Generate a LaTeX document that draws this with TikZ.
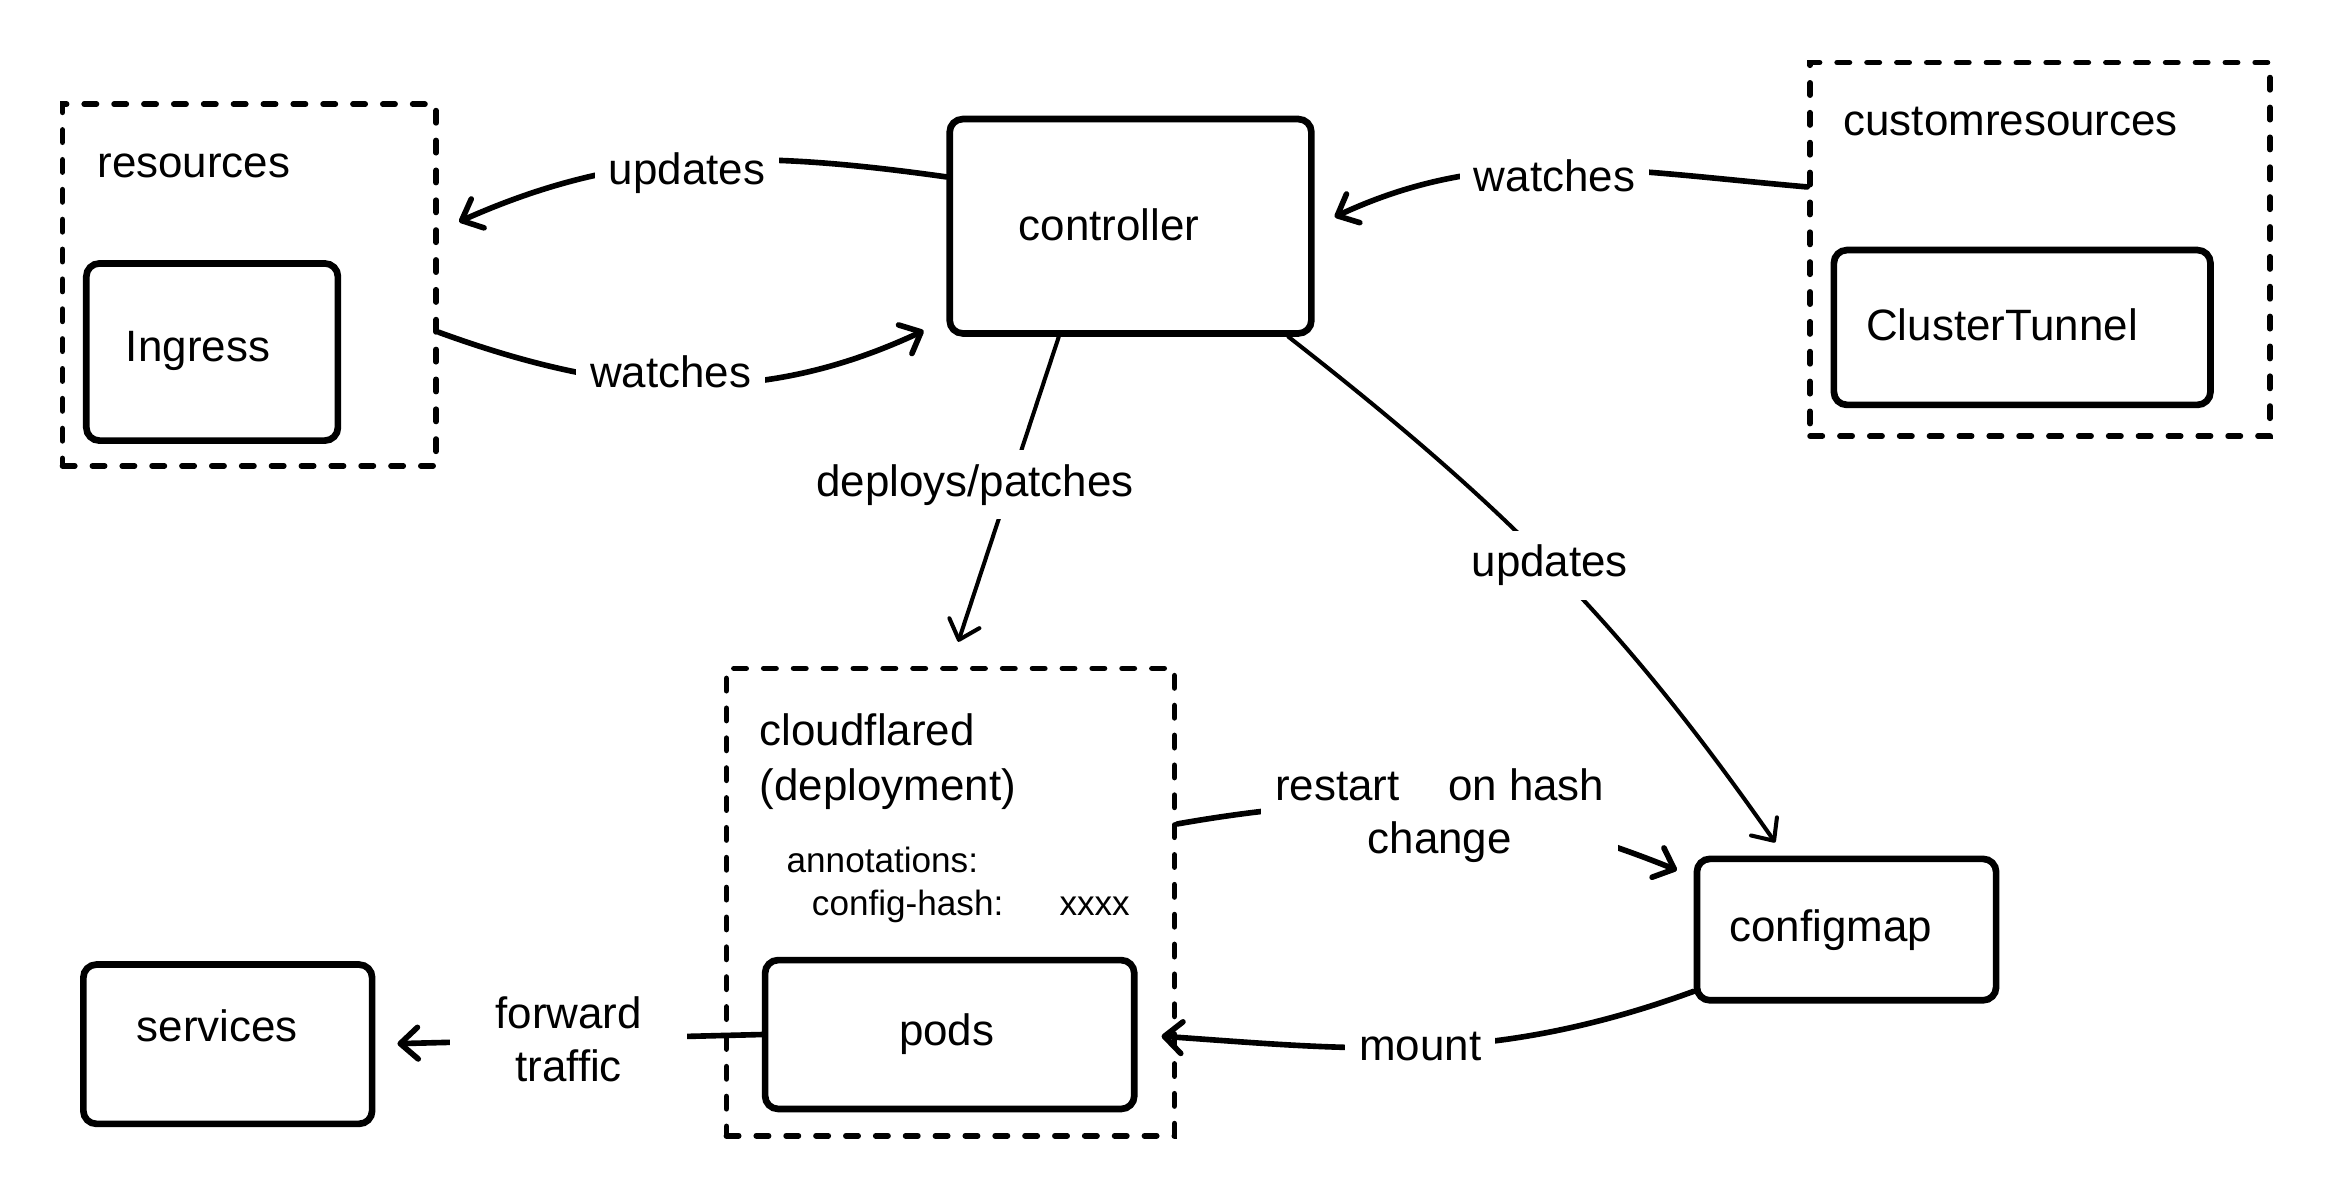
\documentclass[tikz,border=0pt]{standalone}
\usepackage{fontspec}
\setmainfont{Liberation Sans}
\usetikzlibrary{arrows.meta,fit}

\tikzset{
  box/.style={draw, line width=1.9pt, rounded corners=3.7pt, inner sep=0pt},
  group/.style={draw, line width=1.6pt, dash pattern=on 3.5pt off 5pt, line cap=round, inner sep=0pt},
  title/.style={anchor=base west, inner sep=0pt},
  small/.style={font=\fontsize{10pt}{12pt}\selectfont},
  flow/.style={line width=1.6pt, line cap=round, -{Straight Barb[round,length=5pt,width=9pt]}},
  thinflow/.style={flow, line width=1.15pt},
  lbl/.style={fill=white, inner sep=4pt, align=center},
}

\begin{document}
\begin{tikzpicture}[x=0.014885cm, y=-0.014885cm, font=\fontsize{12.5pt}{15pt}\selectfont]
        \useasboundingbox (0,0) rectangle (1568,805);

        % dashed groups
        \node[group, fit={(42,70) (293,313)}] (res) {};
        \node[group, fit={(1216,42) (1525,293)}] (cres) {};
        \node[group, fit={(488,449) (789,763)}] (cfd) {};

        \node[title] (res-t) at (65,119) {resources};
        \node[title] (cres-t) at (1238,91) {customresources};
        \node[title] (cfd-t1) at (510,501) {cloudflared};
        \node[title] (cfd-t2) at (510,538) {(deployment)};
        \node[title, small] (ann) at (528,586) {annotations:};
        \node[title, small] (hash) at (545,615) {config-hash:\hspace{1.6em}xxxx};

        % boxes
        \node[box, fit={(58,177) (227,296)}] (ingress) {};
        \node[box, fit={(638,80) (881,224)}] (ctrl) {};
        \node[box, fit={(1232,168) (1485,272)}] (tunnel) {};
        \node[box, fit={(514,645) (762,745)}] (pods) {};
        \node[box, fit={(56,648) (250,755)}] (svc) {};
        \node[box, fit={(1140,577) (1341,672)}] (cfgmap) {};

        \node (ingress-t) at (133,236) {Ingress};
        \node (ctrl-t) at (745,151) {controller};
        \node (tunnel-t) at (1345,218) {ClusterTunnel};
        \node (pods-t) at (636,695) {pods};
        \node (svc-t) at (146,689) {services};
        \node (cfgmap-t) at (1230,625) {configmap};

        % connectors
        \draw[flow, shorten >=0.22cm] (ctrl.165) to[out=172,in=24] node[lbl, yshift=-0.1cm] {updates} (res.16);
        \draw[flow, shorten >=0.25cm] (res.-14) to[out=-20,in=205] node[lbl, pos=0.45, yshift=0.11cm] {watches} (ctrl.207);
        \draw[flow, shorten >=0.22cm] (cres.165) to[out=175,in=25] node[lbl, yshift=-0.06cm] {watches} (ctrl.east);
        \draw[thinflow, shorten >=0.25cm] (ctrl.237) -- node[lbl, pos=0.45, xshift=-0.35cm] {deploys/patches} (cfd.north);
        \draw[thinflow, shorten >=0.16cm] (ctrl.-35) to[out=-38,in=125] node[lbl, pos=0.48] {updates} (cfgmap.130);
        \draw[flow, shorten >=0.18cm] (cfd.19) to[out=10,in=158] node[lbl, yshift=-0.07cm] {restart\hspace{1.1em}on hash\\change} (cfgmap.161);
        \draw[flow, shorten >=0.24cm] (cfgmap.202) to[out=200,in=-4] node[lbl] {mount} (pods.east);
        \draw[flow, shorten >=0.22cm] (pods.west) -- node[lbl, inner xsep=0.45cm] {forward\\traffic} (svc.east);
\end{tikzpicture}
\end{document}
